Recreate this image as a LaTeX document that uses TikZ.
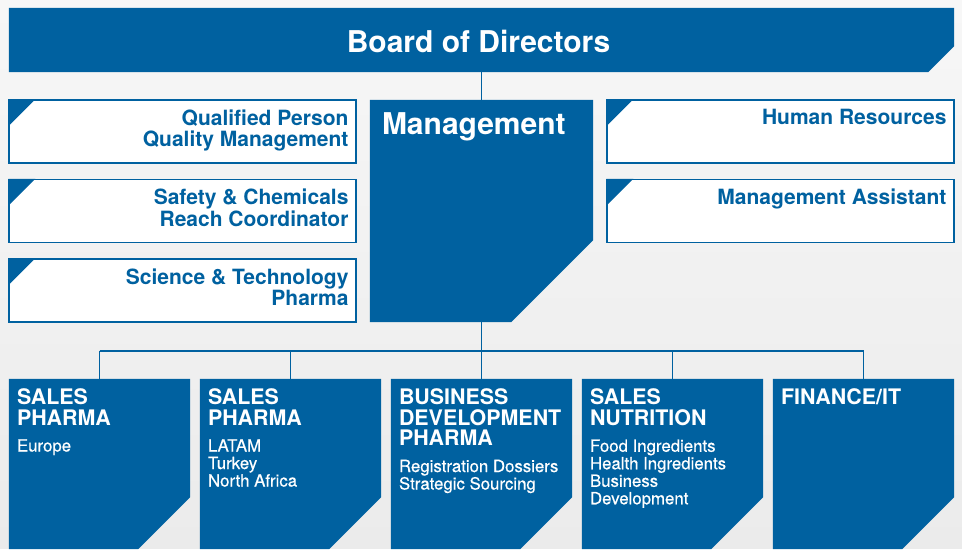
\documentclass[tikz,border=0pt]{standalone}
\usepackage{fontspec}
\setmainfont{TeX Gyre Heros}
\newfontfamily\medfont[FakeBold=0.5]{TeX Gyre Heros}
\usetikzlibrary{positioning,calc}
\definecolor{corpblue}{HTML}{0061A0}
\definecolor{bgtop}{HTML}{F7F7F7}
\definecolor{bgbottom}{HTML}{EBEBEB}
% filled box with the lower right corner cut off
\newcommand{\cutfill}[2]{\fill[corpblue] (#1.north west) -- (#1.north east) -- ([yshift=#2pt]#1.south east) -- ([xshift=-#2pt]#1.south east) -- (#1.south west) -- cycle;}

\begin{document}
\begin{tikzpicture}[x=1pt, y=1pt,
    frame/.style={inner sep=0pt},
    unit/.style={inner sep=0pt, minimum width=181pt, minimum height=170pt},
    side/.style={draw=corpblue, line width=1.3pt, fill=white, inner sep=0pt, minimum width=347pt, minimum height=63pt},
    headtext/.style={text=white, inner sep=0pt, font=\bfseries\fontsize{30}{30}\selectfont},
    sidetext/.style={text=corpblue, inner sep=0pt, anchor=north east, align=right, font=\bfseries\fontsize{21}{21.5}\selectfont},
    unittitle/.style={text=white, inner sep=0pt, anchor=north west, align=left, font=\bfseries\fontsize{21.4}{20.5}\selectfont},
    unitsub/.style={text=white, inner sep=0pt, align=left, font=\medfont\fontsize{16.8}{17.5}\selectfont},
    link/.style={draw=corpblue, line width=1.2pt}]
    \fill[top color=bgtop, bottom color=bgbottom] (0,0) rectangle (962,549);

    % board and management
    \node[frame, minimum width=945pt, minimum height=64pt] (board) at (481.5,509) {};
    \cutfill{board}{26}
    \node[headtext] (boardtxt) at (478.5,507.5) {Board of Directors};
    \node[frame, minimum width=223pt, minimum height=222pt] (mgmt) at (481.5,338) {};
    \cutfill{mgmt}{82}
    \node[headtext, anchor=north west] (mgmttxt) at ([xshift=12pt,yshift=-12.5pt]mgmt.north west) {Management};

    % staff functions
    \node[side] (qp) at (182.5,417.5) {};
    \node[side] (sc) at (182.5,338) {};
    \node[side] (st) at (182.5,258.5) {};
    \node[side] (hr) at (780.5,417.5) {};
    \node[side] (ma) at (780.5,338) {};
    \foreach \b in {qp,sc,st,hr,ma}
        \fill[corpblue] (\b.north west) -- ++(27,0) -- ++(-27,-27) -- cycle;
    \node[sidetext] (qptxt) at ([xshift=-8pt,yshift=-10pt]qp.north east) {Qualified Person\\Quality Management};
    \node[sidetext] (sctxt) at ([xshift=-8pt,yshift=-10pt]sc.north east) {Safety \& Chemicals\\Reach Coordinator};
    \node[sidetext] (sttxt) at ([xshift=-8pt,yshift=-10pt]st.north east) {Science \& Technology\\Pharma};
    \node[sidetext] (hrtxt) at ([xshift=-8pt,yshift=-10pt]hr.north east) {Human Resources};
    \node[sidetext] (matxt) at ([xshift=-8pt,yshift=-10pt]ma.north east) {Management Assistant};

    % business units
    \node[unit] (spe) at (99.5,85) {};
    \node[unit] (spl) at (290.5,85) {};
    \node[unit] (bdp) at (481.5,85) {};
    \node[unit] (snu) at (672.5,85) {};
    \node[unit] (fit) at (863.5,85) {};
    \foreach \u in {spe,spl,bdp,snu,fit}
        {\cutfill{\u}{52}}

    \node[unittitle] (spett) at ([xshift=8pt,yshift=-10pt]spe.north west) {SALES\\PHARMA};
    \node[unitsub, below=13.5pt of spett.south west, anchor=north west] (spesub) {Europe};
    \node[unittitle] (spltt) at ([xshift=8pt,yshift=-10pt]spl.north west) {SALES\\PHARMA};
    \node[unitsub, below=13.5pt of spltt.south west, anchor=north west] (splsub) {LATAM\\Turkey\\North Africa};
    \node[unittitle] (bdptt) at ([xshift=8pt,yshift=-10pt]bdp.north west) {BUSINESS\\DEVELOPMENT\\PHARMA};
    \node[unitsub, below=13.5pt of bdptt.south west, anchor=north west] (bdpsub) {Registration Dossiers\\Strategic Sourcing};
    \node[unittitle] (snutt) at ([xshift=8pt,yshift=-10pt]snu.north west) {SALES\\NUTRITION};
    \node[unitsub, below=13.5pt of snutt.south west, anchor=north west] (snusub) {Food Ingredients\\Health Ingredients\\Business\\Development};
    \node[unittitle] (fittt) at ([xshift=8pt,yshift=-10pt]fit.north west) {FINANCE/IT};

    % connectors
    \coordinate (bus) at (481.5,198);
    \draw[link] (board) -- (mgmt);
    \draw[link] (mgmt) -- (bus);
    \draw[link] (spe.north |- bus) -- (fit.north |- bus);
    \foreach \u in {spe,spl,bdp,snu,fit}
        \draw[link] (\u.north |- bus) -- (\u.north);
\end{tikzpicture}
\end{document}
